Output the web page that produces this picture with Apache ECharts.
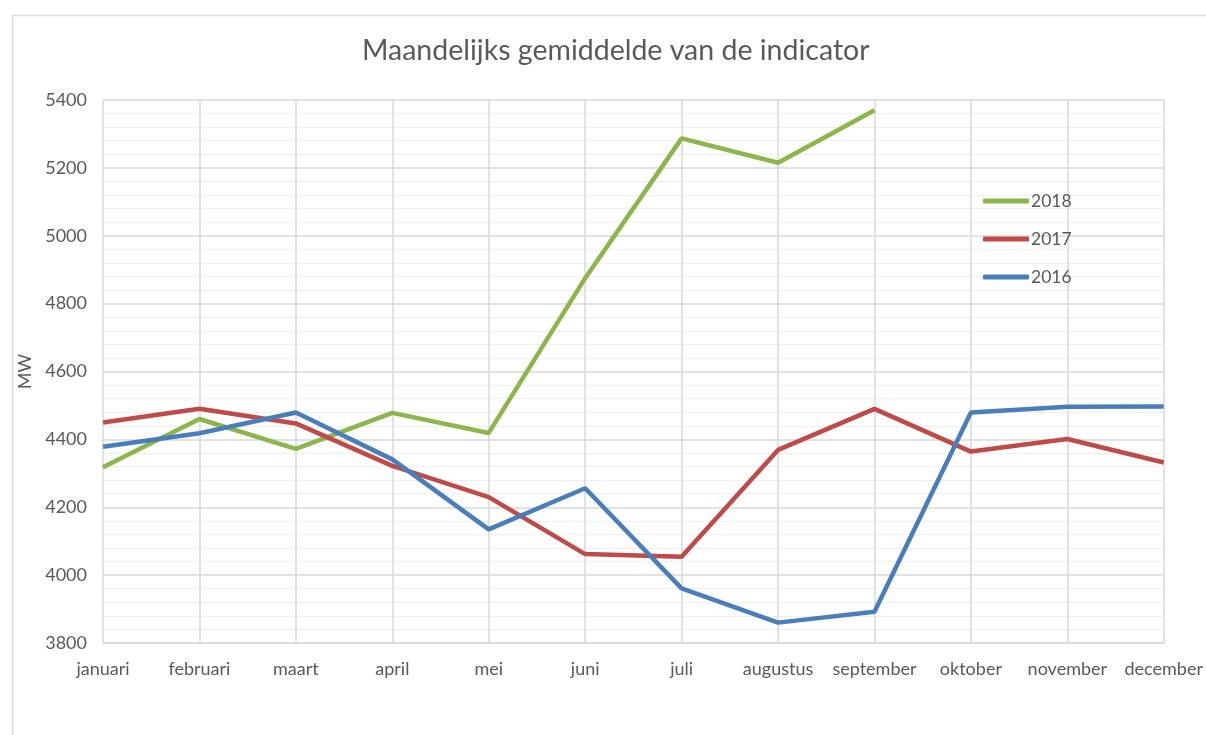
<!DOCTYPE html>
<html>
<head>
<meta charset="utf-8">
<script src="https://cdn.jsdelivr.net/npm/echarts@6/dist/echarts.min.js"></script>
<style>
html,body{margin:0;padding:0;background:#fff;}
#chart{width:1206px;height:735px;}
</style>
</head>
<body>
<div id="chart"></div>
<script>
const months = ['januari','februari','maart','april','mei','juni','juli','augustus','september','oktober','november','december'];
const s2018 = [4318, 4460, 4372, 4478, 4419, 4875, 5287, 5215, 5370, null, null, null];
const s2017 = [4450, 4490, 4447, 4322, 4230, 4062, 4054, 4369, 4490, 4364, 4401, 4332];
const s2016 = [4378, 4418, 4479, 4341, 4135, 4256, 3961, 3860, 3892, 4479, 4496, 4497];
const yTicks = {min: 3800, max: 5400, interval: 200};

const chart = echarts.init(document.getElementById('chart'));
const font = 'Lato, "Open Sans", sans-serif';
const txt = '#595959';
chart.setOption({
  animation: false,
  backgroundColor: '#fff',
  title: {
    text: 'Maandelijks gemiddelde van de indicator',
    left: 357, top: 31,
    textStyle: {fontFamily: font, fontSize: 28.5, fontWeight: 'normal', color: txt}
  },
  graphic: [{
    type: 'rect', left: 10, top: 13, silent: true,
    shape: {width: 1200, height: 730},
    style: {fill: 'none', stroke: '#d9d9d9', lineWidth: 1.5}
  }],
  legend: {
    orient: 'vertical', left: 978, top: 186,
    itemWidth: 46, itemHeight: 5, itemGap: 18, icon: 'roundRect',
    textStyle: {fontFamily: font, fontSize: 17.5, color: txt, lineHeight: 20, padding: [0,0,0,-3]},
    data: ['2018','2017','2016']
  },
  grid: {left: 103, right: 41, top: 100, bottom: 92, containLabel: false},
  xAxis: {
    type: 'category', data: months, boundaryGap: false,
    axisLine: {show: true, lineStyle: {color: '#d9d9d9', width: 1.5}},
    axisTick: {show: false},
    axisLabel: {fontFamily: font, fontSize: 18, color: txt, margin: 17, interval: 0},
    splitLine: {show: true, lineStyle: {color: '#d9d9d9', width: 1.5}}
  },
  yAxis: {
    type: 'value', min: yTicks.min, max: yTicks.max, interval: yTicks.interval,
    name: 'MW', nameLocation: 'middle', nameGap: 57, nameRotate: 90,
    nameTextStyle: {fontFamily: font, fontSize: 18, color: txt},
    axisLine: {show: false}, axisTick: {show: false},
    axisLabel: {fontFamily: font, fontSize: 18, color: txt, margin: 16, formatter: v => String(v)},
    splitLine: {show: true, lineStyle: {color: '#d9d9d9', width: 1.5}},
    minorTick: {show: false, splitNumber: 5},
    minorSplitLine: {show: true, lineStyle: {color: '#efefef', width: 1.2}}
  },
  series: [
    {name: '2018', type: 'line', data: s2018, symbol: 'none', color: '#8CB54C', lineStyle: {width: 4.5, color: '#8CB54C'}},
    {name: '2017', type: 'line', data: s2017, symbol: 'none', color: '#BE4B48', lineStyle: {width: 4.5, color: '#BE4B48'}},
    {name: '2016', type: 'line', data: s2016, symbol: 'none', color: '#4A7EBB', lineStyle: {width: 4.5, color: '#4A7EBB'}}
  ]
});
</script>
</body>
</html>
